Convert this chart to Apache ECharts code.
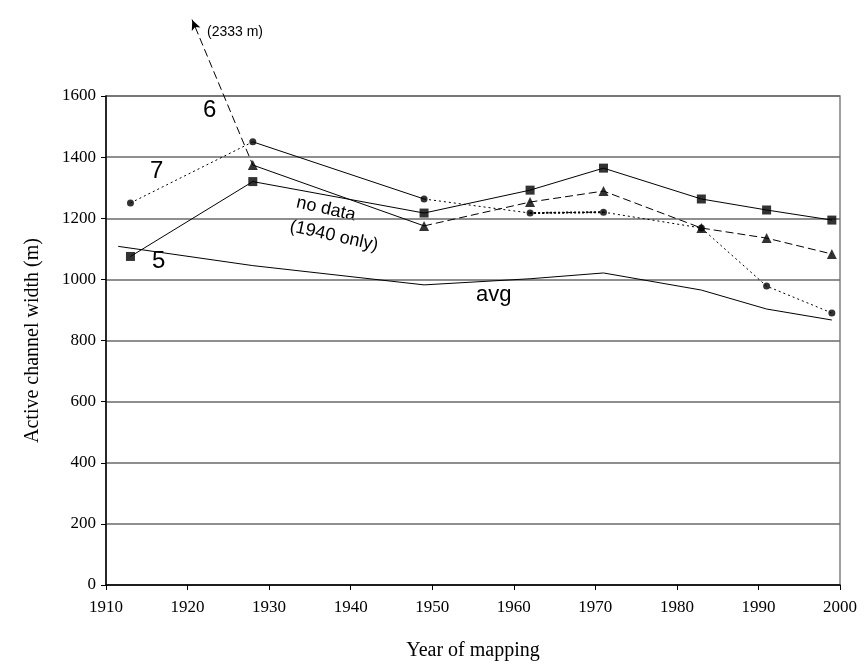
<!DOCTYPE html>
<html>
<head>
<meta charset="utf-8">
<script src="https://cdn.jsdelivr.net/npm/echarts@6/dist/echarts.min.js"></script>
<style>html,body{margin:0;padding:0;background:#fff;}#c{width:867px;height:670px;}</style>
</head>
<body>
<div id="c"></div>
<script>
// ---- data ----
const years = [1913, 1928, 1949, 1962, 1971, 1983, 1991, 1999];
const width5 = [1075, 1320, 1217, 1292, 1364, 1263, 1227, 1194];
const width6 = [2333, 1374, 1175, 1253, 1289, 1168, 1135, 1083];
const width7 = [1250, 1450, 1263, 1217, 1220, 1168, 978, 890];
const yearsAvg = [1911.5, 1928, 1949, 1962, 1971, 1983, 1991, 1999];
const widthAvg = [1108, 1045, 982, 1002, 1021, 965, 903, 867];
const xTicks = [1910, 2000, 10];
const yTicks = [0, 1600, 200];

// ---- layout ----
const G = {left: 106, right: 27, top: 96, bottom: 85};
const overlayTop = 20;
const H = 670;
const plotBottomPx = H - G.bottom;
const overlayMax = yTicks[1] * (plotBottomPx - overlayTop) / (plotBottomPx - G.top);

const pts = (xs, ys, a, b) => xs.slice(a, b).map((x, i) => [x, ys[a + i]]);
const serif = 'Liberation Serif';

const lineBase = (data, type, extra) => Object.assign({
  type: 'line', data: data, showSymbol: false, symbol: 'none',
  lineStyle: {color: '#000', width: 1, type: type},
  silent: true, animation: false, z: 3
}, extra || {});
const scatter = (data, symbol, size) => ({
  type: 'scatter', data: data, symbol: symbol, symbolSize: size,
  itemStyle: {color: '#000'}, silent: true, animation: false, z: 4
});

const chart = echarts.init(document.getElementById('c'), null, {renderer: 'canvas'});
const option = {
  backgroundColor: '#fff',
  animation: false,
  grid: [
    Object.assign({show: true, borderColor: '#808080', borderWidth: 1.5, backgroundColor: 'transparent'}, G),
    {left: G.left, right: G.right, top: overlayTop, bottom: G.bottom}
  ],
  xAxis: [
    {type: 'value', gridIndex: 0, min: xTicks[0], max: xTicks[1], interval: xTicks[2],
     name: 'Year of mapping', nameLocation: 'middle', nameGap: 56,
     nameTextStyle: {fontFamily: serif, fontSize: 20, color: '#000'},
     axisLine: {show: true, lineStyle: {color: '#000', width: 1.5}},
     axisTick: {show: true, inside: false, length: 5, lineStyle: {color: '#000'}},
     axisLabel: {fontFamily: serif, fontSize: 17, color: '#000', margin: 14, formatter: v => String(v)},
     splitLine: {show: false}},
    {type: 'value', gridIndex: 1, min: xTicks[0], max: xTicks[1], show: false}
  ],
  yAxis: [
    {type: 'value', gridIndex: 0, min: yTicks[0], max: yTicks[1], interval: yTicks[2],
     name: 'Active channel width (m)', nameLocation: 'middle', nameGap: 63, nameRotate: 90,
     nameTextStyle: {fontFamily: serif, fontSize: 20, color: '#000'},
     axisLine: {show: true, lineStyle: {color: '#000', width: 1.5}},
     axisTick: {show: true, inside: false, length: 5, lineStyle: {color: '#000'}},
     axisLabel: {fontFamily: serif, fontSize: 17, color: '#000', margin: 10, formatter: v => String(v)},
     splitLine: {show: true, lineStyle: {color: '#6a6a6a', width: 1.5}}},
    {type: 'value', gridIndex: 1, min: 0, max: overlayMax, show: false}
  ],
  series: [
    // avg
    lineBase(pts(yearsAvg, widthAvg, 0, yearsAvg.length), 'solid'),
    // site 5: solid squares
    lineBase(pts(years, width5, 0, years.length), 'solid'),
    scatter(pts(years, width5, 0, years.length), 'rect', 9),
    // site 6: dashed triangles, first segment runs off the top
    lineBase(pts(years, width6, 0, 2), [8, 4], {xAxisIndex: 1, yAxisIndex: 1, clip: true, id: 's6early'}),
    lineBase(pts(years, width6, 1, 3), 'solid'),
    lineBase(pts(years, width6, 2, years.length), [8, 4]),
    scatter(pts(years, width6, 1, years.length), 'triangle', 10),
    // site 7: dotted circles
    lineBase(pts(years, width7, 0, 2), [2, 3]),
    lineBase(pts(years, width7, 1, 3), 'solid'),
    lineBase(pts(years, width7, 2, years.length), [2, 3]),
    lineBase(pts(years, width7, 3, 5), [2, 2], {lineStyle: {color: '#000', width: 2, type: [2, 2]}}),
    scatter(pts(years, width7, 0, years.length), 'circle', 7)
  ],
  graphic: [
    {type: 'text', left: 203, top: 98, style: {text: '6', font: '24px "Liberation Sans"', fill: '#000'}},
    {type: 'text', left: 150, top: 159, style: {text: '7', font: '24px "Liberation Sans"', fill: '#000'}},
    {type: 'text', left: 152, top: 249, style: {text: '5', font: '24px "Liberation Sans"', fill: '#000'}},
    {type: 'text', left: 476, top: 284, style: {text: 'avg', font: '22px "Liberation Sans"', fill: '#000'}},
    {type: 'text', left: 207, top: 25, style: {text: '(2333 m)', font: '14px "Liberation Sans"', fill: '#000'}},
    {type: 'text', x: 326, y: 209, rotation: -0.22, style: {text: 'no data', font: '18px "Liberation Sans"', fill: '#000', align: 'center', verticalAlign: 'middle'}},
    {type: 'text', x: 334, y: 236, rotation: -0.22, style: {text: '(1940 only)', font: '18px "Liberation Sans"', fill: '#000', align: 'center', verticalAlign: 'middle'}}
  ]
};
chart.setOption(option);

// arrowhead where the off-scale segment of site 6 leaves the top of the figure
const pA = chart.convertToPixel({xAxisIndex: 1, yAxisIndex: 1}, [years[1], width6[1]]);
const pB = chart.convertToPixel({xAxisIndex: 1, yAxisIndex: 1}, [years[0], width6[0]]);
const t = (overlayMax - width6[1]) / (width6[0] - width6[1]);
const tipYear = years[1] + t * (years[0] - years[1]);
const ang = Math.atan2(-(pB[1] - pA[1]), pB[0] - pA[0]) * 180 / Math.PI;
chart.setOption({
  series: [{id: 's6early', markPoint: {
    silent: true, animation: false,
    symbol: 'arrow', symbolSize: [7, 10], symbolRotate: ang - 90,
    itemStyle: {color: '#000'}, label: {show: false},
    data: [{coord: [tipYear, overlayMax]}]
  }}]
});
</script>
</body>
</html>
